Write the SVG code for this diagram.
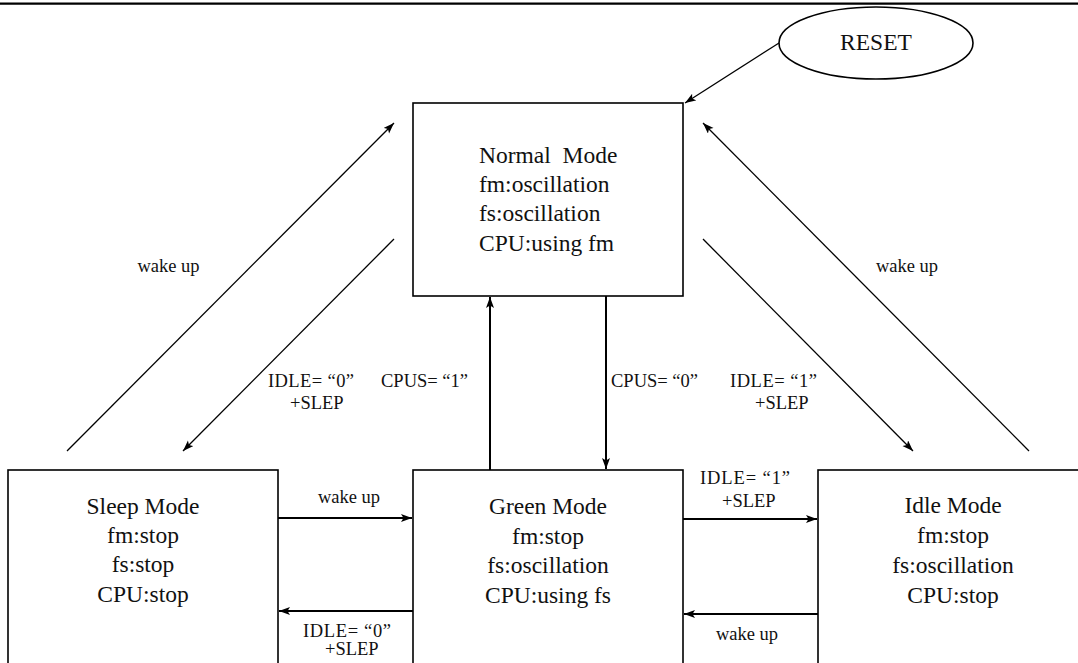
<svg xmlns="http://www.w3.org/2000/svg" width="1078" height="663" viewBox="0 0 1078 663">
<style>
.box{fill:#fff;stroke:#000;stroke-width:1.6}
.nt{font-family:"Liberation Serif","Times New Roman",serif;font-size:23.5px;fill:#111}
.lb{font-family:"Liberation Serif","Times New Roman",serif;font-size:18.5px;fill:#111}
.c{text-anchor:middle}
.ln{stroke:#000;fill:none}
.d{stroke-width:1.3}
.h{stroke-width:2}
</style>
<defs>
<marker id="ah" markerUnits="userSpaceOnUse" markerWidth="12" markerHeight="10" refX="11" refY="4" orient="auto">
<path d="M0,0 L11,4 L0,8 L2.5,4 Z" fill="#000"/>
</marker>
</defs>
<rect width="1078" height="663" fill="#fff"/>
<line x1="0" y1="3.7" x2="1078" y2="3.7" stroke="#000" stroke-width="2.2"/>
<g id="reset">
<ellipse cx="876" cy="43" rx="97" ry="36" class="box"/>
<text x="876" y="50" class="nt c">RESET</text>
</g>
<g id="normal">
<rect x="413" y="103" width="270" height="193" class="box"/>
<text class="nt" xml:space="preserve"><tspan x="479" y="163">Normal  Mode</tspan><tspan x="479" y="192">fm:oscillation</tspan><tspan x="479" y="221">fs:oscillation</tspan><tspan x="479" y="251">CPU:using fm</tspan></text>
</g>
<g id="sleep">
<rect x="8" y="470" width="270" height="200" class="box"/>
<text class="nt c"><tspan x="143" y="514">Sleep Mode</tspan><tspan x="143" y="543">fm:stop</tspan><tspan x="143" y="572">fs:stop</tspan><tspan x="143" y="602">CPU:stop</tspan></text>
</g>
<g id="green">
<rect x="413" y="470" width="270" height="200" class="box"/>
<text class="nt c"><tspan x="548" y="514">Green Mode</tspan><tspan x="548" y="544">fm:stop</tspan><tspan x="548" y="573">fs:oscillation</tspan><tspan x="548" y="603">CPU:using fs</tspan></text>
</g>
<g id="idle">
<rect x="818" y="470" width="270" height="200" class="box"/>
<text class="nt c"><tspan x="953" y="513">Idle Mode</tspan><tspan x="953" y="543">fm:stop</tspan><tspan x="953" y="573">fs:oscillation</tspan><tspan x="953" y="603">CPU:stop</tspan></text>
</g>
<g id="connectors">
<line x1="779" y1="43" x2="685" y2="103" class="ln d" marker-end="url(#ah)"/>
<line x1="67" y1="451" x2="394" y2="123" class="ln d" marker-end="url(#ah)"/>
<line x1="394" y1="239" x2="183" y2="451" class="ln d" marker-end="url(#ah)"/>
<line x1="1029" y1="451" x2="703" y2="123" class="ln d" marker-end="url(#ah)"/>
<line x1="703" y1="239" x2="913" y2="451" class="ln d" marker-end="url(#ah)"/>
<line x1="490" y1="470" x2="490" y2="297" class="ln h" marker-end="url(#ah)"/>
<line x1="606" y1="296" x2="606" y2="469" class="ln h" marker-end="url(#ah)"/>
<line x1="278" y1="518" x2="412" y2="518" class="ln h" marker-end="url(#ah)"/>
<line x1="413" y1="611" x2="279" y2="611" class="ln h" marker-end="url(#ah)"/>
<line x1="683" y1="519" x2="817" y2="519" class="ln h" marker-end="url(#ah)"/>
<line x1="818" y1="614" x2="684" y2="614" class="ln h" marker-end="url(#ah)"/>
</g>
<g id="labels">
<text x="168.5" y="272" class="lb c">wake up</text>
<text x="907" y="272" class="lb c">wake up</text>
<text x="268" y="387" class="lb" textLength="86">IDLE= “0”</text>
<text x="290" y="409" class="lb">+SLEP</text>
<text x="381" y="387" class="lb">CPUS= “1”</text>
<text x="611" y="387" class="lb">CPUS= “0”</text>
<text x="730" y="387" class="lb" textLength="87">IDLE= “1”</text>
<text x="755" y="409" class="lb">+SLEP</text>
<text x="349" y="503" class="lb c">wake up</text>
<text x="303" y="637" class="lb" textLength="88">IDLE= “0”</text>
<text x="325" y="655" class="lb">+SLEP</text>
<text x="700" y="484" class="lb" textLength="90">IDLE= “1”</text>
<text x="722" y="507" class="lb">+SLEP</text>
<text x="747" y="640" class="lb c">wake up</text>
</g>
</svg>
